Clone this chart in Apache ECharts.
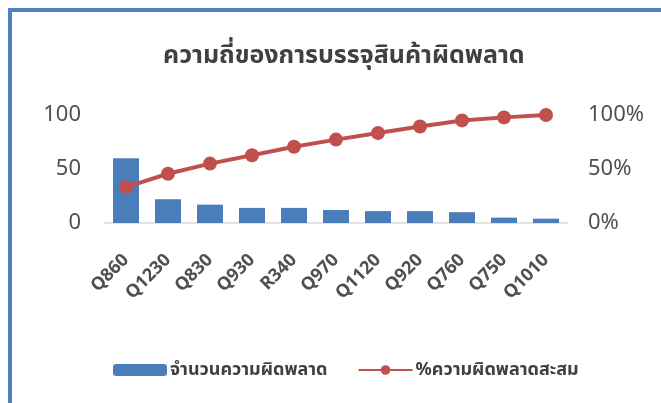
<!DOCTYPE html>
<html>
<head>
<meta charset="utf-8">
<script src="https://cdn.jsdelivr.net/npm/echarts@6/dist/echarts.min.js"></script>
<style>
html,body{margin:0;padding:0;background:#fff;overflow:hidden;}
#frame{position:absolute;left:8px;top:8px;width:700px;height:450px;border:4px solid #4f81bd;box-sizing:border-box;}
#main{position:absolute;left:0;top:0;width:661px;height:403px;}
</style>
</head>
<body>
<div id="frame"></div>
<div id="main"></div>
<script>
const titleText = 'ความถี่ของการบรรจุสินค้าผิดพลาด';
const seriesNames = ['จำนวนความผิดพลาด', '%ความผิดพลาดสะสม'];
const categories = ['Q860','Q1230','Q830','Q930','R340','Q970','Q1120','Q920','Q760','Q750','Q1010'];
const errorCounts = [60, 22, 17, 14, 14, 12, 11, 11, 10, 5, 4];
const cumulativePct = [33.3, 45.6, 55.0, 62.8, 70.6, 77.2, 83.3, 89.4, 95.0, 97.8, 100];
const leftTicks = [0, 50, 100];
const rightTicks = [0, 50, 100];

const fontFam = '"Noto Sans", "Noto Sans Thai", "DejaVu Sans", sans-serif';
const chart = echarts.init(document.getElementById('main'));
chart.setOption({
  animation: false,
  textStyle: { fontFamily: fontFam },
  title: {
    text: titleText,
    left: 158,
    top: 38,
    textStyle: { fontSize: 25, fontWeight: 'bold', color: '#404040', fontFamily: fontFam }
  },
  legend: {
    left: 108,
    top: 356,
    itemWidth: 54,
    itemHeight: 12,
    itemGap: 30,
    textStyle: { fontSize: 18, fontWeight: 'bold', color: '#404040', padding: [0, 0, 0, -2] },
    data: seriesNames
  },
  grid: { left: 105, right: 94, top: 115, bottom: 180 },
  xAxis: {
    type: 'category',
    data: categories,
    axisLine: { lineStyle: { color: '#d9d9d9', width: 1.5 } },
    axisTick: { show: false },
    axisLabel: { rotate: 45, interval: 0, margin: 34, fontSize: 18, fontWeight: 'bold', color: '#505050' }
  },
  yAxis: [
    {
      type: 'value', min: leftTicks[0], max: leftTicks[leftTicks.length - 1], interval: 50,
      splitLine: { show: false }, axisLine: { show: false }, axisTick: { show: false },
      axisLabel: { margin: 24, fontSize: 22, color: '#505050' }
    },
    {
      type: 'value', min: rightTicks[0], max: rightTicks[rightTicks.length - 1], interval: 50,
      splitLine: { show: false }, axisLine: { show: false }, axisTick: { show: false },
      axisLabel: { margin: 21, fontSize: 22, color: '#505050', formatter: '{value}%' }
    }
  ],
  series: [
    {
      name: seriesNames[0], type: 'bar', data: errorCounts, yAxisIndex: 0,
      barWidth: 26, itemStyle: { color: '#4a7ebb' }
    },
    {
      name: seriesNames[1], type: 'line', data: cumulativePct, yAxisIndex: 1,
      symbol: 'circle', symbolSize: 14,
      lineStyle: { color: '#c0504d', width: 4 },
      itemStyle: { color: '#c0504d' }
    }
  ]
});
</script>
</body>
</html>
